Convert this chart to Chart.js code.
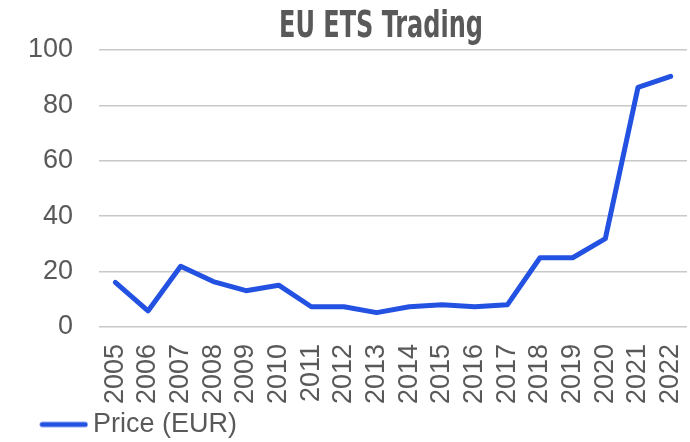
<!DOCTYPE html>
<html>
<head>
<meta charset="utf-8">
<script src="https://cdn.jsdelivr.net/npm/chart.js@4/dist/chart.umd.min.js"></script>
<style>
  html, body { margin: 0; padding: 0; background: #ffffff; }
  #wrap { width: 690px; height: 442px; }
</style>
</head>
<body>
<div id="wrap"><canvas id="c" width="690" height="442"></canvas></div>
<script>
const titleText = 'EU ETS Trading';
const seriesLabel = 'Price (EUR)';
const years = ['2005','2006','2007','2008','2009','2010','2011','2012','2013','2014','2015','2016','2017','2018','2019','2020','2021','2022'];
const prices = [16.1, 5.8, 21.9, 16.4, 13.1, 15.1, 7.3, 7.3, 5.2, 7.3, 8.0, 7.3, 8.0, 25.0, 25.0, 31.9, 86.5, 90.5];
const yTicks = [0, 20, 40, 60, 80, 100];

const textColor = '#595959';
const lineColor = '#2351E1';
const gridColor = '#C8C8C8';
const baseFont = '"Liberation Sans", Arial, sans-serif';

// legend marker: a short thick line with round caps (image centred on the legend box)
const legendMarker = document.createElement('canvas');
legendMarker.width = 93;
legendMarker.height = 8;
(function () {
  const g = legendMarker.getContext('2d');
  g.strokeStyle = lineColor;
  g.lineWidth = 5;
  g.lineCap = 'round';
  g.beginPath();
  g.moveTo(47, 4);
  g.lineTo(90, 4);
  g.stroke();
})();

const titlePlugin = {
  id: 'condensedTitle',
  afterDraw(chart) {
    const ctx = chart.ctx;
    ctx.save();
    ctx.font = 'bold 38px "Liberation Sans Narrow", "DejaVu Sans Condensed", "Arial Narrow", sans-serif';
    const w = ctx.measureText(titleText).width;
    const targetW = 204;
    ctx.translate(381, 37);
    ctx.scale(targetW / w, 1);
    ctx.fillStyle = textColor;
    ctx.textAlign = 'center';
    ctx.textBaseline = 'alphabetic';
    ctx.fillText(titleText, 0, 0);
    ctx.restore();
  }
};

new Chart(document.getElementById('c'), {
  type: 'line',
  data: {
    labels: years,
    datasets: [{
      label: seriesLabel,
      data: prices,
      borderColor: lineColor,
      backgroundColor: lineColor,
      borderWidth: 5,
      borderCapStyle: 'round',
      borderJoinStyle: 'round',
      pointRadius: 0,
      pointHoverRadius: 0,
      pointStyle: legendMarker,
      tension: 0,
      fill: false
    }]
  },
  options: {
    responsive: false,
    animation: false,
    devicePixelRatio: 1,
    layout: { padding: { left: 0, right: 3, top: 50, bottom: -6 } },
    plugins: {
      title: { display: false },
      tooltip: { enabled: false },
      legend: {
        display: true,
        position: 'bottom',
        align: 'start',
        labels: {
          usePointStyle: true,
          pointStyleWidth: 75.5,
          boxHeight: 27,
          padding: 4,
          color: textColor,
          font: { family: baseFont, size: 27 }
        }
      }
    },
    scales: {
      x: {
        type: 'category',
        offset: true,
        grid: { display: false, drawTicks: false },
        border: { display: false },
        ticks: {
          color: textColor,
          font: { family: baseFont, size: 27 },
          minRotation: 90,
          maxRotation: 90,
          autoSkip: false,
          padding: 17
        },
        afterFit(scale) {
          scale.height = 80;
          scale.paddingLeft = 0;
          scale.paddingRight = 0;
        }
      },
      y: {
        min: 0,
        max: 100,
        afterBuildTicks(scale) { scale.ticks = yTicks.map(v => ({ value: v })); },
        grid: { color: gridColor, lineWidth: 1.5, drawTicks: false },
        border: { display: false },
        ticks: {
          color: textColor,
          font: { family: baseFont, size: 27 },
          padding: 26
        },
        afterFit(scale) { scale.width = 99; }
      }
    }
  },
  plugins: [titlePlugin]
});
</script>
</body>
</html>
